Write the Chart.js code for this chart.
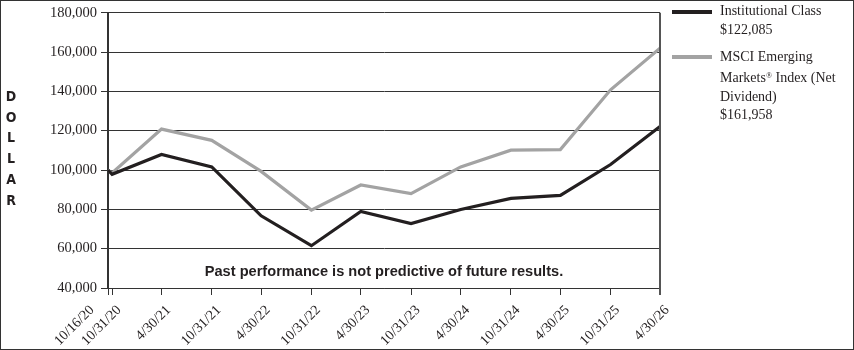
<!DOCTYPE html>
<html>
<head>
<meta charset="utf-8">
<script src="https://cdn.jsdelivr.net/npm/chart.js@4.4.1/dist/chart.umd.min.js"></script>
<style>
html, body { margin: 0; padding: 0; background: #fff; }
#wrap { position: relative; width: 854px; height: 350px; }
#chart { position: absolute; left: 0; top: 0; }
.ylab { position: absolute; left: 3px; top: 86px; width: 16px; text-align: center;
  font: bold 14px "Liberation Sans Narrow", "DejaVu Sans Condensed", "DejaVu Sans", sans-serif;
  font-stretch: condensed; line-height: 20.7px; color: #231f20; }
.note { position: absolute; left: 108px; width: 552px; top: 263px; text-align: center;
  font: bold 14.6px "Liberation Sans", Arial, sans-serif; color: #231f20; }
.swatch { position: absolute; left: 672px; width: 40px; height: 4px; }
.ltext { position: absolute; left: 720px; font: 14px "Liberation Serif", "Times New Roman", serif;
  color: #231f20; line-height: 18.8px; white-space: nowrap; }
.reg { font-size: 8px; vertical-align: 4px; }
</style>
</head>
<body>
<div id="wrap">
  <canvas id="chart" width="854" height="350"></canvas>
  <div class="ylab">D<br>O<br>L<br>L<br>A<br>R</div>
  <div class="note">Past performance is not predictive of future results.</div>
  <div class="swatch" style="top:10px;background:#231f20;"></div>
  <div class="ltext" style="top:2px;">Institutional Class<br>$122,085</div>
  <div class="swatch" style="top:55px;background:#a3a3a3;"></div>
  <div class="ltext" style="top:48px;">MSCI Emerging<br>Markets<span class="reg">®</span> Index (Net<br>Dividend)<br>$161,958</div>
</div>
<script>
const dates = ['10/16/20', '10/31/20', '4/30/21', '10/31/21', '4/30/22', '10/31/22', '4/30/23',
  '10/31/23', '4/30/24', '10/31/24', '4/30/25', '10/31/25', '4/30/26'];
const institutional = [100000, 97800, 107900, 101600, 76700, 61500, 78900, 72800, 79900, 85600, 87100, 102800, 122085];
const msci = [100000, 98500, 120800, 115100, 99300, 79600, 92400, 88000, 101600, 110100, 110400, 140800, 161958];
const yTicks = [40000, 60000, 80000, 100000, 120000, 140000, 160000, 180000];

// days since the first date, so the x axis is spaced in real time
function toDays(s) {
  const [m, d, y] = s.split('/').map(Number);
  return Date.UTC(2000 + y, m - 1, d) / 864e5;
}
const xs = dates.map(s => toDays(s) - toDays(dates[0]));

const ink = '#231f20';
const serif = '"Liberation Serif", "Times New Roman", serif';
const tickFont = 14;
const tickPad = 7;
const tickLen = 7;
const labelShift = 7;

const frame = {
  id: 'frame',
  afterDraw(chart) {
    const { ctx, chartArea: a } = chart;
    const sx = chart.scales.x;
    ctx.save();
    ctx.strokeStyle = '#555';
    ctx.lineWidth = 2;
    ctx.beginPath();
    ctx.moveTo(a.right, a.top);
    ctx.lineTo(a.right, a.bottom + tickLen);
    ctx.stroke();

    // first date label sits a bit to the left so it clears the 10/31/20 one
    const lh = tickFont * 1.2;
    const px = sx.getPixelForValue(xs[0]) + labelShift - 23 - (lh / 2) * Math.sin(Math.PI / 4);
    ctx.translate(px, sx.top + tickLen + tickPad);
    ctx.rotate(-Math.PI / 4);
    ctx.font = tickFont + 'px ' + serif;
    ctx.fillStyle = ink;
    ctx.textAlign = 'right';
    ctx.textBaseline = 'middle';
    ctx.fillText(dates[0], 0, lh / 2);
    ctx.restore();

    ctx.save();
    ctx.strokeStyle = '#333';
    ctx.lineWidth = 1;
    ctx.strokeRect(0.5, 0.5, 853, 349);
    ctx.restore();
  }
};

new Chart(document.getElementById('chart'), {
  type: 'line',
  data: {
    datasets: [
      { label: 'Institutional Class', data: xs.map((x, i) => ({ x, y: institutional[i] })),
        borderColor: ink, borderWidth: 3.2, pointRadius: 0, tension: 0 },
      { label: 'MSCI Emerging Markets Index (Net Dividend)', data: xs.map((x, i) => ({ x, y: msci[i] })),
        borderColor: '#a3a3a3', borderWidth: 3.2, pointRadius: 0, tension: 0 }
    ]
  },
  options: {
    responsive: false,
    animation: false,
    layout: { padding: { left: 0, top: 10, right: 194, bottom: 0 } },
    plugins: { legend: { display: false }, tooltip: { enabled: false } },
    scales: {
      x: {
        type: 'linear',
        min: xs[0],
        max: xs[xs.length - 1],
        afterBuildTicks: s => { s.ticks = xs.map(v => ({ value: v })); },
        afterFit: s => { s.height = 62; },
        ticks: {
          callback: (v, i) => i === 0 ? '' : dates[i],
          minRotation: 45, maxRotation: 45, autoSkip: false, labelOffset: labelShift,
          color: ink, font: { family: serif, size: tickFont }, padding: tickPad
        },
        grid: { drawOnChartArea: false, color: '#333', tickLength: tickLen },
        border: { color: '#333', width: 1 }
      },
      y: {
        min: 40000,
        max: 180000,
        afterBuildTicks: s => { s.ticks = yTicks.map(v => ({ value: v })); },
        afterFit: s => { s.width = 108; },
        ticks: {
          callback: v => v.toLocaleString('en-US'),
          color: ink, font: { family: serif, size: 14.5 }, padding: 4
        },
        grid: { color: '#333', lineWidth: 1, tickLength: tickLen },
        border: { color: '#333', width: 2 }
      }
    }
  },
  plugins: [frame]
});
</script>
</body>
</html>
